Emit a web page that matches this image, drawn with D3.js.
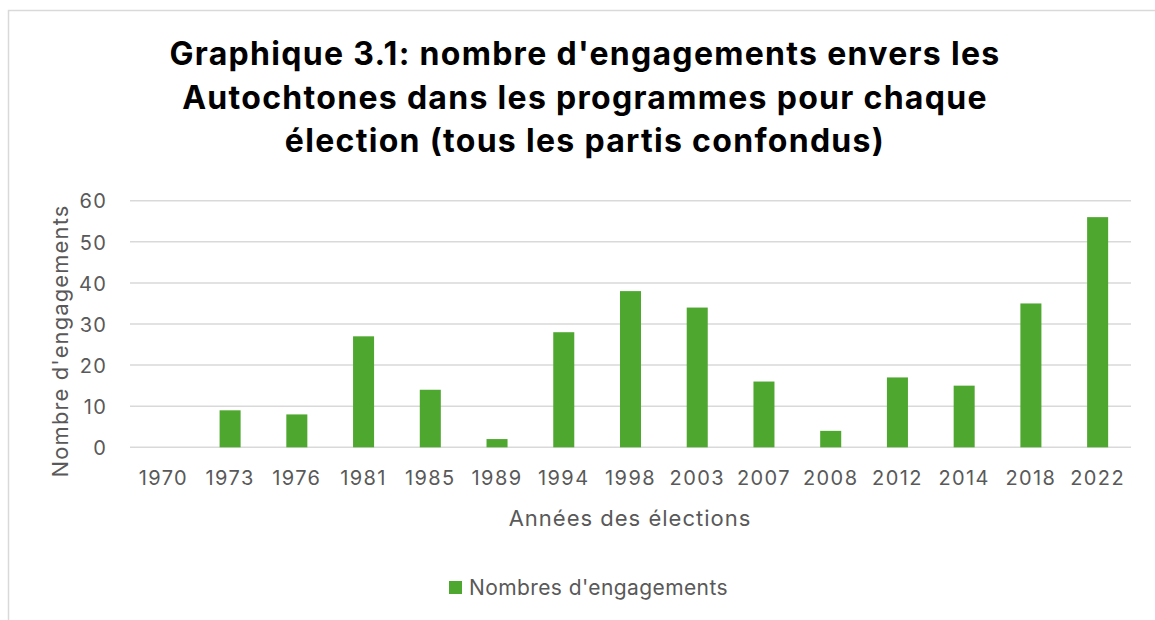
<!DOCTYPE html>
<html>
<head>
<meta charset="utf-8">
<script src="https://cdn.jsdelivr.net/npm/d3@7"></script>
<style>
  body { margin: 0; background: #fff; }
  text { font-family: Inter, "Open Sans", sans-serif; }
</style>
</head>
<body>
<script>
var years = ["1970", "1973", "1976", "1981", "1985", "1989", "1994", "1998", "2003", "2007", "2008", "2012", "2014", "2018", "2022"];
var engagements = [0, 9, 8, 27, 14, 2, 28, 38, 34, 16, 4, 17, 15, 35, 56];
var yTicks = [0, 10, 20, 30, 40, 50, 60];
var titleLines = ["Graphique 3.1: nombre d'engagements envers les", "Autochtones dans les programmes pour chaque", "élection (tous les partis confondus)"];
var seriesName = "Nombres d'engagements";

var width = 1155, height = 620;
var green = "#4ea72e";
var grey = "#595959";

var svg = d3.select("body").append("svg")
    .attr("width", width)
    .attr("height", height);

// chart border (only top and left visible)
svg.append("path")
    .attr("d", "M8.5,620 V10.5 H1155")
    .attr("fill", "none")
    .attr("stroke", "#d9d9d9")
    .attr("stroke-width", 1.5);

var x = d3.scaleBand()
    .domain(years)
    .range([130, 1131])
    .paddingInner(0.685)
    .paddingOuter(0.3425);

var y = d3.scaleLinear()
    .domain([0, 60])
    .range([447.3, 200.7]);

// gridlines
svg.append("g").selectAll("line")
    .data(yTicks)
    .enter().append("line")
    .attr("x1", 130).attr("x2", 1131)
    .attr("y1", function(d) { return y(d); })
    .attr("y2", function(d) { return y(d); })
    .attr("stroke", "#d9d9d9")
    .attr("stroke-width", 1.5);

// y axis labels
var yAxis = svg.append("g")
    .attr("transform", "translate(107,0)")
    .call(d3.axisLeft(y).tickValues(yTicks).tickSize(0).tickPadding(0));
yAxis.select(".domain").remove();
yAxis.selectAll("text")
    .attr("fill", grey)
    .attr("dy", "0.36em")
    .style("font-size", "20px")
    .style("letter-spacing", "1.2px");

// bars
svg.append("g").selectAll("rect")
    .data(engagements)
    .enter().append("rect")
    .attr("x", function(d, i) { return x(years[i]); })
    .attr("y", function(d) { return y(d); })
    .attr("width", x.bandwidth())
    .attr("height", function(d) { return y(0) - y(d); })
    .attr("fill", green);

// x axis labels
var xAxis = svg.append("g")
    .attr("transform", "translate(0,485)")
    .call(d3.axisBottom(x).tickSize(0).tickPadding(0));
xAxis.select(".domain").remove();
xAxis.selectAll("text")
    .attr("fill", grey)
    .attr("dy", "0")
    .style("font-size", "20px")
    .style("letter-spacing", "1.4px");

// axis titles
svg.append("text")
    .attr("x", 630).attr("y", 526)
    .attr("text-anchor", "middle")
    .attr("fill", grey)
    .style("font-size", "22px")
    .style("letter-spacing", "1px")
    .text("Années des élections");

svg.append("text")
    .attr("transform", "translate(68,341) rotate(-90)")
    .attr("text-anchor", "middle")
    .attr("fill", grey)
    .style("font-size", "22px")
    .style("letter-spacing", "1.1px")
    .text("Nombre d'engagements");

// title
svg.append("g").selectAll("text")
    .data(titleLines)
    .enter().append("text")
    .attr("x", 585)
    .attr("y", function(d, i) { return 65 + i * 43.5; })
    .attr("text-anchor", "middle")
    .attr("fill", "#000")
    .style("font-size", "32px")
    .style("font-weight", "bold")
    .style("letter-spacing", "1.3px")
    .text(function(d) { return d; });

// legend
svg.append("rect")
    .attr("x", 449).attr("y", 581)
    .attr("width", 13).attr("height", 13)
    .attr("fill", green);
svg.append("text")
    .attr("x", 469).attr("y", 595)
    .attr("fill", grey)
    .style("font-size", "21px")
    .style("letter-spacing", "0.4px")
    .text(seriesName);
</script>
</body>
</html>
